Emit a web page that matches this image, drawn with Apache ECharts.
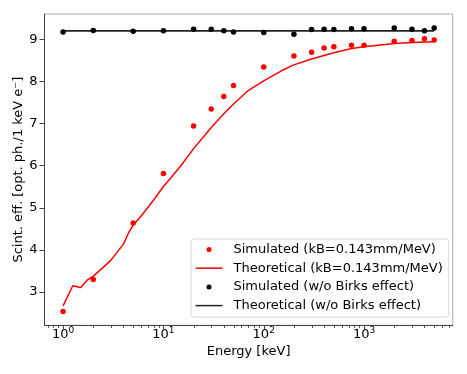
<!DOCTYPE html>
<html>
<head>
<meta charset="utf-8">
<script src="https://cdn.jsdelivr.net/npm/echarts@6/dist/echarts.min.js"></script>
<style>
  html, body { margin: 0; padding: 0; background: #fff; }
  #chart { width: 467px; height: 374px; }
</style>
</head>
<body>
<div id="chart"></div>
<script>
// energies of the simulated points [keV]
const energies = [1, 2, 5, 10, 20, 30, 40, 50, 100, 200, 300, 400, 500, 750, 1000, 2000, 3000, 4000, 5000];
const simBirks = [2.53, 3.29, 4.63, 5.81, 6.94, 7.34, 7.64, 7.90, 8.34, 8.60, 8.69, 8.79, 8.82, 8.86, 8.86, 8.95, 8.97, 9.01, 8.98];
const simNoBirks = [9.17, 9.21, 9.19, 9.20, 9.24, 9.24, 9.20, 9.17, 9.16, 9.12, 9.23, 9.24, 9.23, 9.25, 9.25, 9.27, 9.24, 9.20, 9.27];

// theoretical curves
const theoryEnergies = [1, 1.25, 1.5, 1.75, 2, 2.5, 3, 4, 4.5, 5, 6, 7, 8, 10, 12, 15, 20, 30, 40, 50, 70, 100, 150, 200, 300, 500, 750, 1000, 2000, 3000, 5000];
const theoryBirks = [2.66, 3.14, 3.10, 3.28, 3.37, 3.57, 3.75, 4.13, 4.40, 4.58, 4.80, 5.00, 5.18, 5.50, 5.72, 6.00, 6.40, 6.90, 7.23, 7.46, 7.78, 8.01, 8.25, 8.39, 8.53, 8.68, 8.78, 8.82, 8.90, 8.92, 8.94];
const theoryNoBirksE = [1, 5000];
const theoryNoBirks = [9.20, 9.20];

const xTickLabels = [1, 10, 100, 1000];
const yTickLabels = [3, 4, 5, 6, 7, 8, 9];

const X_MIN = 0.653, X_MAX = 7650;
const Y_MIN = 2.2, Y_MAX = 9.6;

const pair = (xs, ys) => xs.map((x, i) => [x, ys[i]]);

// minor ticks at 2..9 x each decade inside the range
const xMinor = [];
for (let d = 0.1; d <= 1000; d *= 10) {
    for (let k = 2; k <= 9; k++) {
        const v = +(k * d).toPrecision(3);
        if (v > X_MIN && v < X_MAX) xMinor.push(v);
    }
}
const xTicks = xTickLabels.map(v => [v, 5]).concat(xMinor.map(v => [v, 2.5]));
const yTicks = yTickLabels.map(v => [X_MIN, v]);

const chart = echarts.init(document.getElementById('chart'));
const font = 'DejaVu Sans';
const lineIcon = 'path://M0,0H36V2H0Z';

chart.setOption({
    animation: false,
    textStyle: { fontFamily: font },
    grid: {
        left: 44.5, top: 14, right: 14.3, bottom: 48.7,
        show: true, borderColor: '#aaa', borderWidth: 1, backgroundColor: 'transparent'
    },
    legend: {
        orient: 'vertical',
        left: 191, top: 239,
        padding: [3, 6, 4, 4.5],
        itemWidth: 27, itemHeight: 5, itemGap: 3.7,
        backgroundColor: 'rgba(255,255,255,0.85)',
        borderColor: '#d8d8d8', borderWidth: 1, borderRadius: 3,
        textStyle: { fontFamily: font, fontSize: 13, color: '#000', lineHeight: 15, padding: [0, 0, 0, 6] },
        data: [
            { name: 'Simulated (kB=0.143mm/MeV)', icon: 'circle' },
            { name: 'Theoretical (kB=0.143mm/MeV)', icon: lineIcon },
            { name: 'Simulated (w/o Birks effect)', icon: 'circle' },
            { name: 'Theoretical (w/o Birks effect)', icon: lineIcon }
        ]
    },
    xAxis: {
        type: 'log', logBase: 10, min: X_MIN, max: X_MAX,
        name: 'Energy [keV]', nameLocation: 'middle', nameGap: 20, nameMoveOverlap: false,
        nameTextStyle: { fontFamily: font, fontSize: 13, color: '#000' },
        axisLine: { lineStyle: { color: '#444', width: 1 } },
        axisTick: { show: false },
        splitLine: { show: false },
        axisLabel: {
            margin: 1, color: '#000', fontSize: 13, fontFamily: font,
            showMinLabel: false, showMaxLabel: false,
            formatter: v => {
                const e = Math.round(Math.log10(v));
                if (Math.abs(v / Math.pow(10, e) - 1) > 1e-6) return '';
                return '{b|10}{sup|' + e + '}';
            },
            rich: {
                b: { fontSize: 13, fontFamily: font, color: '#000', lineHeight: 15, verticalAlign: 'bottom' },
                sup: { fontSize: 9, fontFamily: font, color: '#000', lineHeight: 9, verticalAlign: 'top' }
            }
        }
    },
    yAxis: {
        type: 'value', min: Y_MIN, max: Y_MAX, splitNumber: 7,
        name: 'Scint. eff. [opt. ph./1 keV e\u207B]', nameLocation: 'middle', nameGap: 19, nameMoveOverlap: false,
        nameTextStyle: { fontFamily: font, fontSize: 13, color: '#000' },
        axisLine: { show: true, lineStyle: { color: '#444', width: 1 } },
        axisTick: { show: false },
        splitLine: { show: false },
        axisLabel: {
            margin: 7, color: '#000', fontSize: 13, fontFamily: font,
            formatter: v => (Math.abs(v - Math.round(v)) < 1e-6 ? String(Math.round(v)) : '')
        }
    },
    series: [
        {
            name: 'Theoretical (kB=0.143mm/MeV)', type: 'line',
            data: pair(theoryEnergies, theoryBirks),
            symbol: 'none', showSymbol: false,
            lineStyle: { color: '#ff0000', width: 1.5 }, itemStyle: { color: '#ff0000' }
        },
        {
            name: 'Theoretical (w/o Birks effect)', type: 'line',
            data: pair(theoryNoBirksE, theoryNoBirks),
            symbol: 'none', showSymbol: false,
            lineStyle: { color: '#222', width: 1.8 }, itemStyle: { color: '#222' }
        },
        {
            name: 'Simulated (kB=0.143mm/MeV)', type: 'scatter',
            data: pair(energies, simBirks), symbolSize: 5.5,
            itemStyle: { color: '#ff0000', opacity: 1 }, z: 3
        },
        {
            name: 'Simulated (w/o Birks effect)', type: 'scatter',
            data: pair(energies, simNoBirks), symbolSize: 5.5,
            itemStyle: { color: '#000', opacity: 1 }, z: 3
        },
        {
            // x ticks, placed through the log axis
            type: 'custom', data: xTicks, clip: false, silent: true, z: 1,
            renderItem: (params, api) => {
                const p = api.coord([api.value(0), Y_MIN]);
                const x = Math.round(p[0]) + 0.5;
                return {
                    type: 'line',
                    shape: { x1: x, y1: p[1], x2: x, y2: p[1] + api.value(1) },
                    style: { stroke: '#444', lineWidth: 1 }
                };
            }
        },
        {
            // y ticks
            type: 'custom', data: yTicks, clip: false, silent: true, z: 1,
            renderItem: (params, api) => {
                const p = api.coord([X_MIN, api.value(1)]);
                const y = Math.round(p[1]) + 0.5;
                return {
                    type: 'line',
                    shape: { x1: p[0], y1: y, x2: p[0] - 5, y2: y },
                    style: { stroke: '#444', lineWidth: 1 }
                };
            }
        }
    ]
});
</script>
</body>
</html>
